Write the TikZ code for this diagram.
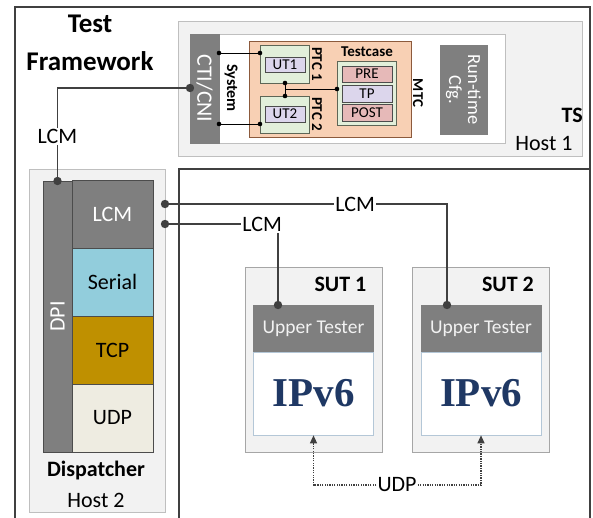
\documentclass[tikz,border=0pt]{standalone}
\usepackage{fontspec}
\setmainfont{Carlito}
\newfontfamily\ipfont{Liberation Serif}
\usepackage{xcolor}
\usetikzlibrary{arrows.meta,positioning}

\definecolor{darkbar}{HTML}{7F7F7F}
\definecolor{hostfill}{HTML}{F2F2F2}
\definecolor{hostline}{HTML}{BFBFBF}
\definecolor{tcfill}{HTML}{F8D0B4}
\definecolor{tcline}{HTML}{8C5A3C}
\definecolor{ptcfill}{HTML}{E2EFDA}
\definecolor{ptcline}{HTML}{5E6656}
\definecolor{utfill}{HTML}{DCD6EC}
\definecolor{prefill}{HTML}{E6B9B8}
\definecolor{serialfill}{HTML}{92CDDC}
\definecolor{tcpfill}{HTML}{BF9000}
\definecolor{udpfill}{HTML}{EEECE1}
\definecolor{ipblue}{HTML}{1F3864}
\definecolor{ipline}{HTML}{B4C7D7}
\definecolor{wire}{HTML}{404040}

\begin{document}
\begin{tikzpicture}[x=1pt,y=-1pt,
  box/.style={rectangle,inner sep=0pt,draw=black!70,line width=0.6pt},
  host/.style={box,fill=hostfill,draw=hostline,line width=0.8pt},
  bar/.style={box,fill=darkbar,draw=darkbar,text=white,font=\fontsize{22}{25}\selectfont},
  ptc/.style={box,fill=ptcfill,draw=ptcline,minimum width=49pt},
  small/.style={box,fill=utfill,font=\fontsize{15}{16}\selectfont},
  stack/.style={box,minimum width=81pt,minimum height=68pt,font=\fontsize{22}{25}\selectfont},
  vlabel/.style={inner sep=0pt,rotate=-90,font=\fontsize{15}{16}\selectfont\bfseries},
  txt/.style={inner sep=0pt,font=\fontsize{22}{25}\selectfont},
  lbl/.style={txt,fill=white,inner sep=1.5pt},
  lcm/.style={draw=wire,line width=1.8pt},
  link/.style={draw=black,line width=0.9pt},
  udp/.style={draw=wire,line width=1.2pt,dash pattern=on 1.3pt off 1.1pt,
              -{Triangle[length=8pt,width=7pt]}}
]
  \useasboundingbox (0,0) rectangle (593,517);
  \clip (0,0) rectangle (593,517);

  % frames
  \draw[wire,line width=1.2pt] (15,7) rectangle (590,530);
  \draw[wire,line width=1.2pt] (179,169) rectangle (590,530);
  \node[txt,font=\fontsize{27}{38}\selectfont\bfseries,align=center] (tf) at (90,42.5) {Test\\Framework};

  % test system, host 1
  \node[host,minimum width=404pt,minimum height=135pt] (ts) at (380,88.5) {};
  \node[box,fill=white,draw=hostline,minimum width=315pt,minimum height=109pt] (tsin) at (347.5,88.5) {};
  \node[bar,rotate=-90,minimum width=109pt,minimum height=29pt] (cti) at (204.5,88.5) {CTI/CNI};
  \node[vlabel,font=\fontsize{16}{17}\selectfont\bfseries] (sys) at (231,88) {System};
  \node[box,fill=tcfill,draw=tcline,minimum width=162pt,minimum height=96pt] (tc) at (330,89) {};
  \node[txt,font=\fontsize{15}{16}\selectfont\bfseries] (tclbl) at (367,52) {Testcase};
  \node[ptc,minimum height=38pt] (ptc1) at (284.5,64) {};
  \node[small,minimum width=40pt,minimum height=15pt] (ut1) at (285,64.5) {UT1};
  \node[vlabel] at (317,64) {PTC 1};
  \node[ptc,minimum height=37pt] (ptc2) at (284.5,114.5) {};
  \node[small,minimum width=40pt,minimum height=16pt] (ut2) at (285,114) {UT2};
  \node[vlabel] at (317,114) {PTC 2};
  \node[ptc,minimum width=59pt,minimum height=64pt] (mtc) at (366.5,93) {};
  \node[small,fill=prefill,minimum width=50pt,minimum height=16pt] (pre) at (367,74) {PRE};
  \node[small,minimum width=50pt,minimum height=17pt] (tp) at (367,93.5) {TP};
  \node[small,fill=prefill,minimum width=50pt,minimum height=17pt] (post) at (367,112.5) {POST};
  \node[vlabel] at (418,93) {MTC};
  \node[bar,rotate=-90,minimum width=89pt,minimum height=47pt,align=center,
        font=\fontsize{18.5}{19}\selectfont] (cfg) at (463.5,89.5) {Run-time\\Cfg.};
  \node[txt,font=\fontsize{22}{25}\selectfont\bfseries,anchor=east] (tslbl) at (583,115) {TS};
  \node[txt] (host1) at (544,143) {Host 1};

  \coordinate (c1) at (219,53);
  \coordinate (p1) at (260,53);
  \coordinate (c2) at (219,124);
  \coordinate (p2) at (260,124);
  \coordinate (p1s) at (285,83);
  \coordinate (p2n) at (285,96);
  \coordinate (mw) at (337,89);
  \draw[link] (c1) -- (p1);
  \draw[link] (c2) -- (p2);
  \draw[link] (p1s) -- (p2n);
  \draw[link] (p1s |- mw) -- (mw);
  \foreach \p in {c1,p1,c2,p2,p1s,p2n,mw}
    \fill (\p) circle (2.3pt);

  % dispatcher, host 2
  \node[host,minimum width=136pt,minimum height=343pt] (disp) at (97,340.5) {};
  \node[bar,draw=black!70,rotate=90,minimum width=271pt,minimum height=29pt] (dpi) at (57.5,316.5) {DPI};
  \node[stack,fill=darkbar,text=white] (lcm) at (112.5,214.5) {LCM};
  \node[stack,fill=serialfill] (serial) at (112.5,282) {Serial};
  \node[stack,fill=tcpfill] (tcp) at (112.5,350) {TCP};
  \node[stack,fill=udpfill] (udp) at (112.5,418) {UDP};
  \node[txt,font=\fontsize{22}{25}\selectfont\bfseries] (displbl) at (96,470) {Dispatcher};
  \node[txt] (host2) at (96,500) {Host 2};

  % systems under test
  \foreach \n/\x in {1/313.5,2/481} {
    \node[host,draw=black!35,minimum width=137pt,minimum height=185pt] (sut\n) at (\x,359.5) {};
    \node[txt,font=\fontsize{22}{25}\selectfont\bfseries,anchor=east] (sutlbl\n) at (\x+53,284) {SUT \n};
    \node[box,fill=darkbar,draw=darkbar,text=hostfill,minimum width=120pt,minimum height=47pt,
          font=\fontsize{19.5}{22}\selectfont] (upper\n) at (\x,328.5) {Upper Tester};
    \node[box,fill=white,draw=ipline,minimum width=120pt,minimum height=83pt,text=ipblue,
          font=\fontsize{41}{44}\selectfont\ipfont\bfseries] (ip\n) at (\x,393.5) {IPv6};
  }

  % LCM wiring
  \coordinate (tsdot) at (190,88);
  \coordinate (dpidot) at (57.5,181);
  \coordinate (dlcm1) at (165,204);
  \coordinate (dlcm2) at (165,224);
  \coordinate (sut1in) at (278,305);
  \coordinate (sut2in) at (447,305);
  \draw[lcm] (tsdot) -| node[lbl,pos=0.76] {LCM} (dpidot);
  \draw[lcm] (dlcm1) -| node[lbl,pos=0.337] {LCM} (sut2in);
  \draw[lcm] (dlcm2) -| node[lbl,pos=0.43] {LCM} (sut1in);
  \foreach \p in {tsdot,dpidot,dlcm1,dlcm2,sut1in,sut2in}
    \fill[wire] (\p) circle (4.2pt);

  % UDP between the stacks
  \node[lbl,inner sep=1pt] (udplbl) at (397,485) {UDP};
  \draw[udp] (udplbl.west) -| (ip1.south);
  \draw[udp] (udplbl.east) -| (ip2.south);
\end{tikzpicture}
\end{document}
